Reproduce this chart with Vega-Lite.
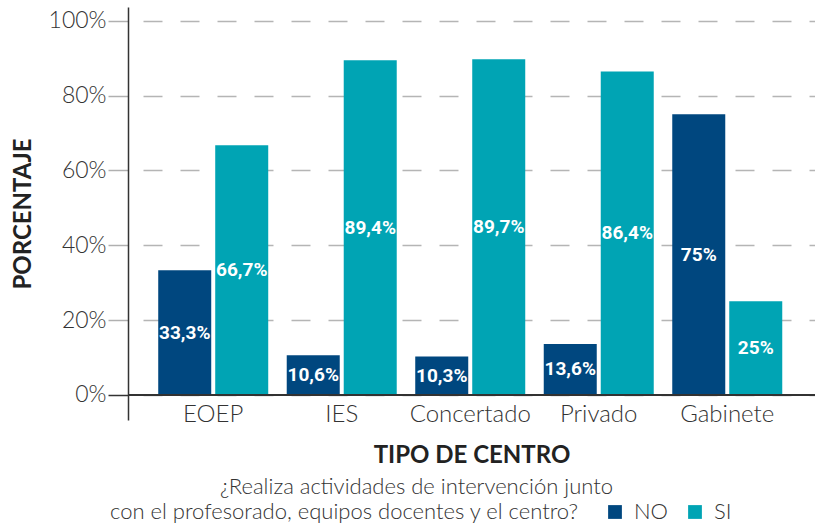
{
  "$schema": "https://vega.github.io/schema/vega-lite/v6.json",
  "width": 687,
  "height": 413,
  "autosize": {"type": "none"},
  "padding": {"left": 128, "top": 7, "right": 0, "bottom": 106},
  "background": "white",
  "config": {
    "view": {"stroke": null},
    "font": "Lato",
    "locale": {"number": {"decimal": ",", "thousands": ".", "grouping": [3], "currency": ["", " €"]}}
  },
  "title": {
    "text": "¿Realiza actividades de intervención junto",
    "orient": "bottom",
    "frame": "group",
    "anchor": "middle",
    "offset": -46,
    "dx": -55,
    "fontSize": 22,
    "fontWeight": 300,
    "color": "#333333"
  },
  "data": {
    "values": [
      {"tipo": "EOEP", "respuesta": "NO", "valor": 0.333},
      {"tipo": "EOEP", "respuesta": "SI", "valor": 0.667},
      {"tipo": "IES", "respuesta": "NO", "valor": 0.106},
      {"tipo": "IES", "respuesta": "SI", "valor": 0.894},
      {"tipo": "Concertado", "respuesta": "NO", "valor": 0.103},
      {"tipo": "Concertado", "respuesta": "SI", "valor": 0.897},
      {"tipo": "Privado", "respuesta": "NO", "valor": 0.136},
      {"tipo": "Privado", "respuesta": "SI", "valor": 0.864},
      {"tipo": "Gabinete", "respuesta": "NO", "valor": 0.75},
      {"tipo": "Gabinete", "respuesta": "SI", "valor": 0.25}
    ]
  },
  "resolve": {"scale": {"y": "independent"}},
  "layer": [
    {
      "mark": {"type": "bar"},
      "encoding": {
        "x": {
          "field": "tipo", "type": "nominal",
          "sort": ["EOEP", "IES", "Concertado", "Privado", "Gabinete"],
          "scale": {"paddingInner": 0.144, "paddingOuter": 0.245, "align": 0.48},
          "axis": {
            "title": "TIPO DE CENTRO",
            "titleFontSize": 24, "titleFontWeight": "bold", "titleColor": "#222222",
            "titlePadding": 17,
            "labelFontSize": 24, "labelFontWeight": 300, "labelColor": "#333333",
            "labelPadding": -18, "labelAngle": 0,
            "domain": false, "ticks": false, "grid": false
          }
        },
        "xOffset": {
          "field": "respuesta", "type": "nominal", "sort": ["NO", "SI"],
          "scale": {"paddingInner": 0.07, "paddingOuter": 0}
        },
        "y": {
          "field": "valor", "type": "quantitative",
          "scale": {"domain": [-0.067, 1.0366], "nice": false},
          "axis": {
            "title": "PORCENTAJE",
            "titleFontSize": 24, "titleFontWeight": "bold", "titleColor": "#222222",
            "titlePadding": 13,
            "values": [0, 0.2, 0.4, 0.6, 0.8, 1],
            "format": ".0%",
            "labelFontSize": 23, "labelFontWeight": 300, "labelColor": "#333333",
            "labelPadding": 2,
            "tickSize": 20, "tickWidth": 1.5,
            "tickColor": {"condition": {"test": "datum.value === 0", "value": "#333333"}, "value": "#b0b0b0"},
            "domainColor": "#333333", "domainWidth": 1.5,
            "grid": true, "gridColor": "#b5b5b5", "gridWidth": 1.5,
            "gridDash": [19, 18], "gridDashOffset": 22
          }
        },
        "y2": {"datum": 0},
        "color": {
          "field": "respuesta", "type": "nominal",
          "scale": {"domain": ["NO", "SI"], "range": ["#00477f", "#00a4b4"]},
          "legend": {
            "title": "con el profesorado, equipos docentes y el centro?",
            "orient": "none", "legendX": -18, "legendY": 494,
            "direction": "horizontal",
            "titleOrient": "left", "titleLimit": 700,
            "titleFontSize": 22, "titleFontWeight": 300, "titleColor": "#333333",
            "titlePadding": 24,
            "symbolType": "square", "symbolSize": 190, "symbolStrokeWidth": 0,
            "labelFontSize": 22, "labelFontWeight": 300, "labelColor": "#333333",
            "labelOffset": 8, "columnPadding": 15
          }
        }
      }
    },
    {
      "mark": {"type": "text", "color": "white", "fontWeight": "bold", "fontSize": 19, "font": "Roboto", "baseline": "middle"},
      "encoding": {
        "x": {"field": "tipo", "type": "nominal", "sort": ["EOEP", "IES", "Concertado", "Privado", "Gabinete"]},
        "xOffset": {"field": "respuesta", "type": "nominal", "sort": ["NO", "SI"]},
        "y": {"field": "valor", "type": "quantitative", "scale": {"domain": [-0.134, 2.0732], "nice": false}, "axis": null},
        "text": {"field": "valor", "type": "quantitative", "format": ".1~%"}
      }
    },
    {
      "mark": {"type": "rule", "color": "#333333", "strokeWidth": 1.5},
      "encoding": {"y": {"datum": 0, "scale": {"domain": [-0.067, 1.0366], "nice": false}, "axis": null}}
    }
  ]
}
